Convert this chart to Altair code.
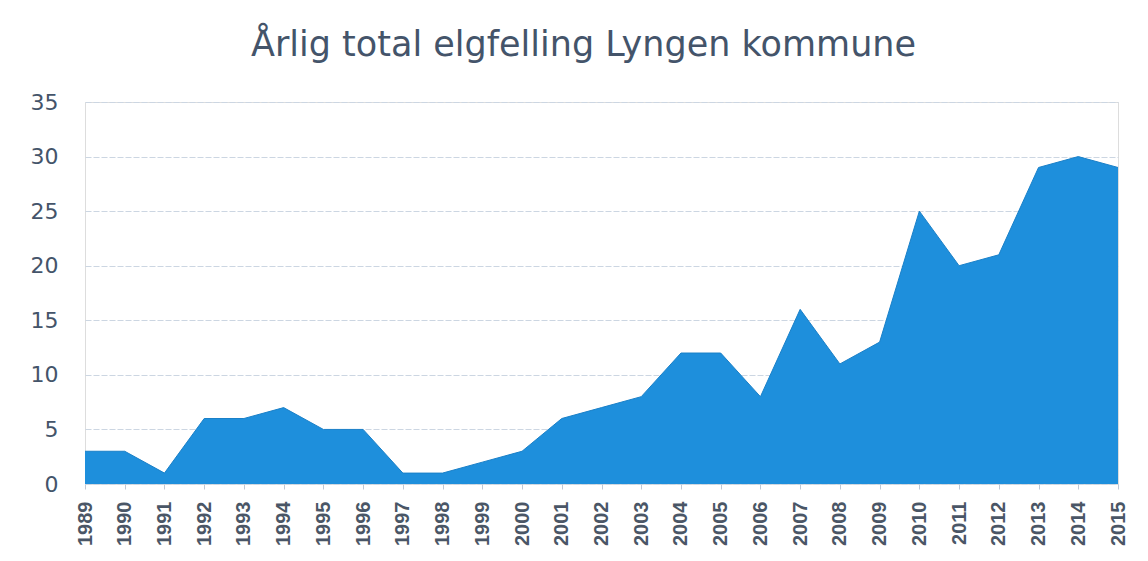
import altair as alt
import pandas as pd

years = [str(y) for y in range(1989, 2016)]
values = [3, 3, 1, 6, 6, 7, 5, 5, 1, 1, 2, 3, 6, 7, 8, 12, 12, 8, 16, 11, 13, 25, 20, 21, 29, 30, 29]
y_ticks = [0, 5, 10, 15, 20, 25, 30, 35]

df = pd.DataFrame({"year": years, "value": values})

W, H = 1033, 382
label_color = "#44546a"

area = alt.Chart(df).mark_area(color="#1E8FDC", opacity=1, line={"color": "#1A80C8", "strokeWidth": 1}).encode(
    x=alt.X("year:O", title=None,
            scale=alt.Scale(type="point", padding=0),
            axis=alt.Axis(labelAngle=270, labelAlign="right", labelBaseline="middle",
                          labelFont="Liberation Sans", labelFontSize=20, labelFontWeight="bold",
                          labelColor="#4a5666", labelPadding=12, ticks=True, tickColor="#c0c8d4",
                          tickSize=5, domain=False, grid=False)),
    y=alt.Y("value:Q", title=None,
            scale=alt.Scale(domain=[0, 35], nice=False),
            axis=alt.Axis(values=y_ticks, labelFont="DejaVu Sans", labelFontSize=22,
                          labelColor=label_color, labelPadding=27, ticks=False, domain=False,
                          grid=True, gridColor="#ccd6e2", gridWidth=1.2, gridDash=[6, 2])),
)

chart = area.properties(
    width=W, height=H,
    title=alt.TitleParams("Årlig total elgfelling Lyngen kommune", font="DejaVu Sans",
                          fontSize=35, fontWeight="normal", color=label_color,
                          anchor="middle", offset=28, dx=-18),
    autosize=alt.AutoSizeParams(type="none"),
    padding={"left": 77, "top": 94, "right": 14, "bottom": 66},
).configure_view(stroke="transparent", strokeWidth=0).configure(background="white")

chart.save("out.html", embed_options={"renderer": "svg", "actions": False})
